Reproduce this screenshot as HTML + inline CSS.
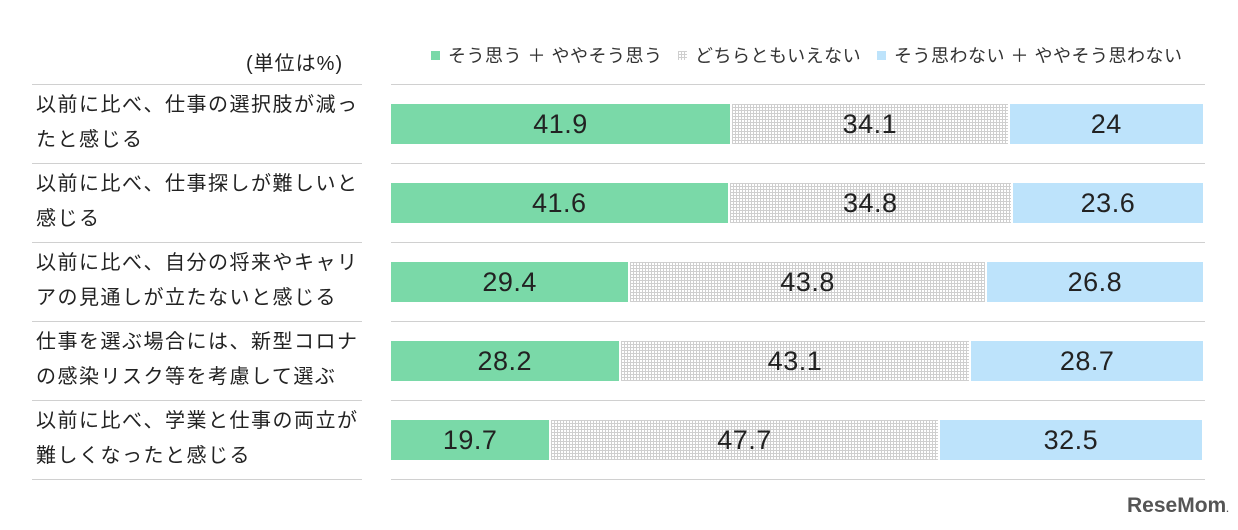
<!DOCTYPE html>
<html><head><meta charset="utf-8"><style>
body{margin:0;background:#fff;width:1238px;height:530px;overflow:hidden;position:relative;font-family:"Liberation Sans","Noto Sans CJK JP",sans-serif;color:#222}
.abs{position:absolute}
.lbl{position:absolute;left:36px;width:340px;font-size:20px;letter-spacing:1.5px;line-height:35px;color:#222;white-space:nowrap}
.sep{position:absolute;height:1px;background:#d0d0d0}
.seg{position:absolute;display:flex;align-items:center;justify-content:center;font-size:27px;letter-spacing:0.5px;color:#222}
.hatch{background-color:#fff;background-image:linear-gradient(#cfcfcf 1px,transparent 1px),linear-gradient(90deg,#cfcfcf 1px,transparent 1px);background-size:3px 3px}
.leg{position:absolute;top:42px;font-size:18px;letter-spacing:0.5px;color:#333;display:flex;align-items:center;white-space:nowrap}
.sw{width:9px;height:9px;margin-right:8px;display:inline-block}
</style></head><body>
<div class="abs" style="left:246px;top:47px;font-size:20px;letter-spacing:1px">(単位は%)</div>
<div class="leg" style="left:431px"><span class="sw" style="background:#7ad9a8"></span>そう思う ＋ ややそう思う</div>
<div class="leg" style="left:678px"><span class="sw hatch"></span>どちらともいえない</div>
<div class="leg" style="left:877px"><span class="sw" style="background:#bde3fb"></span>そう思わない ＋ ややそう思わない</div>
<div id="chart"></div>
<div class="abs" style="left:1127px;top:494px;font-size:21px;font-weight:bold;color:#555">ReseMom<span style="font-size:9px">.</span></div>
<script>
const categories=["以前に比べ、仕事の選択肢が減ったと感じる","以前に比べ、仕事探しが難しいと感じる","以前に比べ、自分の将来やキャリアの見通しが立たないと感じる","仕事を選ぶ場合には、新型コロナの感染リスク等を考慮して選ぶ","以前に比べ、学業と仕事の両立が難しくなったと感じる"];
const labelLines=[["以前に比べ、仕事の選択肢が減っ","たと感じる"],["以前に比べ、仕事探しが難しいと","感じる"],["以前に比べ、自分の将来やキャリ","アの見通しが立たないと感じる"],["仕事を選ぶ場合には、新型コロナ","の感染リスク等を考慮して選ぶ"],["以前に比べ、学業と仕事の両立が","難しくなったと感じる"]];
const agree=[41.9,41.6,29.4,28.2,19.7];
const neutral=[34.1,34.8,43.8,43.1,47.7];
const disagree=[24,23.6,26.8,28.7,32.5];
const x0=391,x1=1205,rowTop=84,rowH=79;
const xs=v=>v/100*(x1-x0);
const root=document.getElementById('chart');
function sep(y,l,w){const d=document.createElement('div');d.className='sep';d.style.cssText=`top:${y}px;left:${l}px;width:${w}px`;

root.appendChild(d);}
for(let i=0;i<=categories.length;i++){const y=rowTop+i*rowH;sep(y,32,330);sep(y,391,814);}
categories.forEach((c,i)=>{
 const y=rowTop+i*rowH;
 const l=document.createElement('div');l.className='lbl';l.style.top=(y+4)+'px';l.innerHTML=labelLines[i].join('<br>');
 
 
 root.appendChild(l);
 let x=x0;
 [[agree[i],'#7ad9a8','agree'],[neutral[i],null,'neutral'],[disagree[i],'#bde3fb','disagree']].forEach(([v,col,n])=>{
  const s=document.createElement('div');s.className='seg'+(col?'':' hatch');
  const w=xs(v);
  s.style.cssText+=`left:${x}px;top:${y+20}px;width:${w-2}px;height:40px;`+(col?`background:${col};`:'');
  s.textContent=v;
  
  
  root.appendChild(s);x+=w;
 });
});
</script>
</body></html>
